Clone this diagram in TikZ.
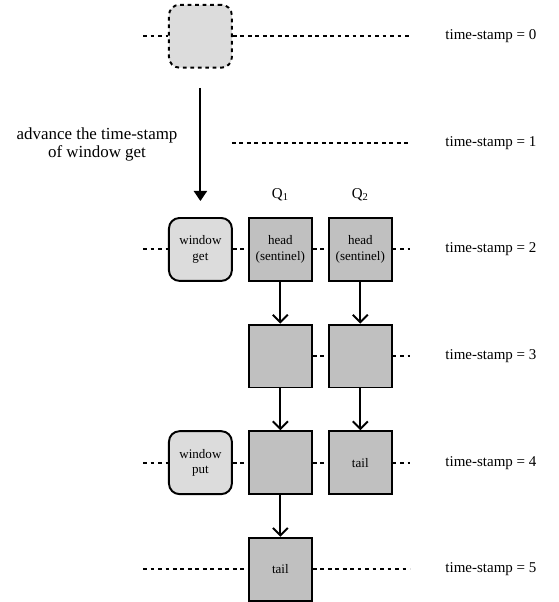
\documentclass[tikz,border=0pt]{standalone}
\usepackage{fontspec}
\setmainfont{Liberation Serif}
\usepackage{xcolor}
\usetikzlibrary{arrows.meta}
\definecolor{qgray}{HTML}{C0C0C0}
\definecolor{wgray}{HTML}{DCDCDC}

\begin{document}
\begin{tikzpicture}[
  qbox/.style={draw,line width=1.3pt,fill=qgray,minimum size=1.475cm,inner sep=0pt,
    align=center,font=\fontsize{8.7}{10.3}\selectfont},
  wbox/.style={qbox,rounded corners=7pt,fill=wgray},
  ghost/.style={wbox,dash pattern=on 2.5pt off 2.5pt},
  dots/.style={line width=1.3pt,dash pattern=on 2.5pt off 2.5pt},
  link/.style={line width=1.3pt,-{Straight Barb[length=5pt,width=10pt]}},
  stamp/.style={anchor=west,inner sep=0pt,font=\fontsize{10}{12}\selectfont}
]
\useasboundingbox (0,0) rectangle (13.087,-14.118);

% time-stamp labels
\node[stamp] (ts0) at (10.44,-0.85) {time-stamp = 0};
\node[stamp] (ts1) at (10.44,-3.35) {time-stamp = 1};
\node[stamp] (ts2) at (10.44,-5.85) {time-stamp = 2};
\node[stamp] (ts3) at (10.44,-8.35) {time-stamp = 3};
\node[stamp] (ts4) at (10.44,-10.85) {time-stamp = 4};
\node[stamp] (ts5) at (10.44,-13.35) {time-stamp = 5};

% free ends of the dotted lines
\coordinate (l0) at (3.354,-0.85);
\coordinate (r0) at (9.62,-0.85);
\coordinate (a1) at (5.44,-3.35);
\coordinate (r1) at (9.62,-3.35);
\coordinate (l2) at (3.354,-5.85);
\coordinate (r2) at (9.62,-5.85);
\coordinate (r3) at (9.62,-8.35);
\coordinate (l4) at (3.354,-10.85);
\coordinate (r4) at (9.62,-10.85);
\coordinate (l5) at (3.354,-13.35);
\coordinate (r5) at (9.62,-13.35);

% boxes
\node[ghost] (start) at (4.7,-0.85) {};
\node[wbox] (wget) at (4.7,-5.85) {window\\get};
\node[wbox] (wput) at (4.7,-10.85) {window\\put};

\node[font=\fontsize{10}{12}\selectfont] (q1) at (6.575,-4.573) {Q\textsubscript{1}};
\node[font=\fontsize{10}{12}\selectfont] (q2) at (8.45,-4.573) {Q\textsubscript{2}};

\node[qbox] (head1) at (6.575,-5.85) {head\\(sentinel)};
\node[qbox] (n1) at (6.575,-8.35) {};
\node[qbox] (n2) at (6.575,-10.85) {};
\node[qbox] (tail1) at (6.575,-13.35) {tail};
\node[qbox] (head2) at (8.45,-5.85) {head\\(sentinel)};
\node[qbox] (n3) at (8.45,-8.35) {};
\node[qbox] (tail2) at (8.45,-10.85) {tail};

% dotted time lines
\draw[dots] (l0) -- (start);
\draw[dots] (start) -- (r0);
\draw[dots] (a1) -- (r1);
\draw[dots] (l2) -- (wget);
\draw[dots] (wget) -- (head1);
\draw[dots] (head1) -- (head2);
\draw[dots] (head2) -- (r2);
\draw[dots] (n1) -- (n3);
\draw[dots] (n3) -- (r3);
\draw[dots] (l4) -- (wput);
\draw[dots] (wput) -- (n2);
\draw[dots] (n2) -- (tail2);
\draw[dots] (tail2) -- (r4);
\draw[dots] (l5) -- (tail1);
\draw[dots] (tail1) -- (r5);

% advancing window get
\draw[line width=1.3pt,-{Triangle[length=6.7pt,width=8.7pt]}] ([yshift=-0.45cm]start.south) -- ([yshift=0.375cm]wget.north);
\node[align=center,font=\fontsize{11.3}{11.8}\selectfont] (adv) at (2.275,-3.39) {advance the time-stamp\\of window get};

% queue links
\draw[link] (head1) -- (n1);
\draw[link] (n1) -- (n2);
\draw[link] (n2) -- (tail1);
\draw[link] (head2) -- (n3);
\draw[link] (n3) -- (tail2);

\end{tikzpicture}
\end{document}
